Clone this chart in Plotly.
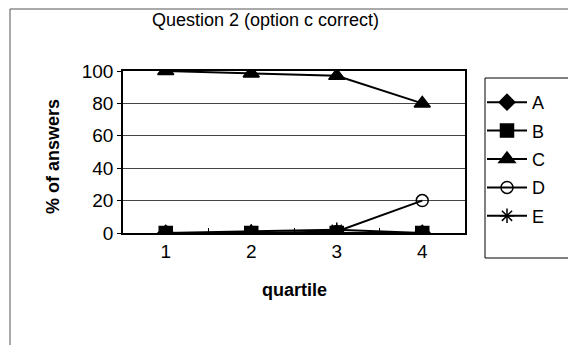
import plotly.graph_objects as go

quartiles = ["1", "2", "3", "4"]
series_names = ["A", "B", "C", "D", "E"]
A = [0, 0, 0, 0]
B = [0, 0, 0, 0]
C = [100, 98.5, 97, 80]
D = [0, 0, 1, 20]
E = [0, 1, 2, 0]
y_ticks = [0, 20, 40, 60, 80, 100]

symbols = ["diamond", "square", "triangle-up", "circle-open", "asterisk-open"]
sizes = [12, 13, 14, 12, 12]
values = [A, B, C, D, E]

FONT = "Liberation Sans, Arial, sans-serif"
fig = go.Figure()
for name, vals, sym, sz in zip(series_names, values, symbols, sizes):
    fig.add_trace(go.Scatter(
        x=quartiles, y=vals, name=name, mode="lines+markers",
        line=dict(color="black", width=2),
        marker=dict(symbol=sym, size=sz, color="black",
                    line=dict(color="black", width=1.5)),
        legendgroup=name,
    ))

# page body has an 8px margin; work in screen coordinates and shift
OFF = 8
W, H = 576 - OFF, 345 - OFF
L, R, T, B_ = 123 - OFF, 465 - OFF, 71 - OFF, 233 - OFF
def px(x): return (x - OFF - L) / (R - L)
def py(y): return (B_ - (y - OFF)) / (B_ - T)

fig.update_layout(
    width=W, height=H,
    margin=dict(l=L, r=W - R, t=T, b=H - B_),
    paper_bgcolor="white", plot_bgcolor="white",
    font=dict(family=FONT, size=18, color="black"),
    showlegend=True,
    legend=dict(x=px(482), y=py(84), xanchor="left", yanchor="top",
                borderwidth=0, bgcolor="rgba(0,0,0,0)",
                font=dict(size=18), tracegroupgap=2,
                itemwidth=40),
    xaxis=dict(type="category", range=[-0.5, 3.5], showgrid=False,
               showline=True, linecolor="black", linewidth=1.5, mirror=True,
               ticks="inside", tickson="boundaries", ticklen=5,
               tickcolor="black", tickfont=dict(size=19)),
    yaxis=dict(range=[0, 100], tickvals=y_ticks, showgrid=True,
               gridcolor="#444", gridwidth=1, zeroline=False,
               showline=True, linecolor="black", linewidth=1.5, mirror=True,
               ticks="outside", ticklen=4, tickcolor="black",
               tickfont=dict(size=19)),
    annotations=[
        dict(text="Question 2 (option c correct)", x=px(265), y=py(20),
             xref="paper", yref="paper", showarrow=False,
             xanchor="center", yanchor="middle",
             font=dict(size=18)),
        dict(text="<b>% of answers</b>", x=px(53), y=py(157),
             xref="paper", yref="paper", showarrow=False, textangle=-90,
             xanchor="center", yanchor="middle",
             font=dict(size=18)),
        dict(text="<b>quartile</b>", x=px(294), y=py(290),
             xref="paper", yref="paper", showarrow=False,
             xanchor="center", yanchor="middle",
             font=dict(size=18)),
    ],
    shapes=[
        dict(type="line", xref="paper", yref="paper", x0=px(10), x1=px(576),
             y0=py(9), y1=py(9), line=dict(color="#555", width=1)),
        dict(type="line", xref="paper", yref="paper", x0=px(10), x1=px(10),
             y0=py(9), y1=py(345), line=dict(color="#555", width=1)),
        dict(type="rect", xref="paper", yref="paper", x0=px(485), x1=px(580),
             y0=py(258), y1=py(78), line=dict(color="black", width=1)),
    ],
)

fig.write_html("out.html")
